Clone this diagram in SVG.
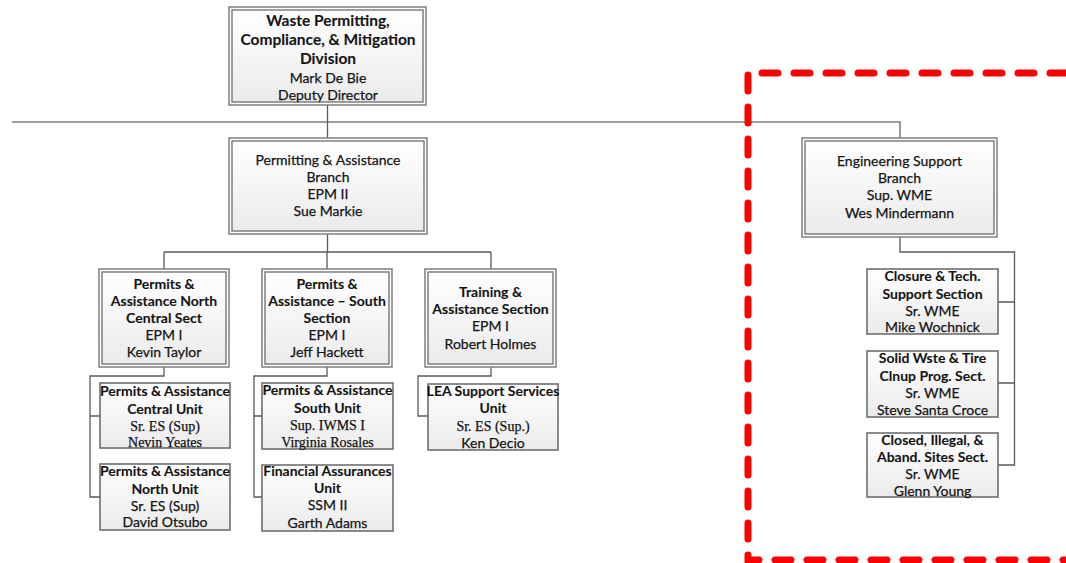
<svg xmlns="http://www.w3.org/2000/svg" width="1066" height="563" viewBox="0 0 1066 563">
<defs>
<linearGradient id="g" x1="0" y1="0" x2="0" y2="1">
<stop offset="0" stop-color="#ffffff"/>
<stop offset="1" stop-color="#ebebeb"/>
</linearGradient>
<style>
.o{fill:#fff;stroke:#7f7f7f;stroke-width:1.5}
.i{fill:url(#g);stroke:#7f7f7f;stroke-width:1.5}
.s{fill:url(#g);stroke:#666;stroke-width:1.5}
.c{fill:none;stroke:#5a5a5a;stroke-width:1.3}
.t{font-family:Lato,"Liberation Sans",sans-serif;font-size:14px;fill:#141414;stroke:#141414;stroke-width:0.25;text-anchor:middle}
.b{font-weight:bold;stroke-width:0.1}
.h{font-size:15.5px}
.sf{font-family:"Liberation Serif",serif;font-size:14px}
.red{fill:none;stroke:#ff0000;stroke-width:7;stroke-dasharray:16 16;stroke-linecap:round}
</style>
</defs>
<rect width="1066" height="563" fill="#fff"/>
<g id="connectors">
<path class="c" d="M12 122 H900 V138" style="stroke:#808080;stroke-width:1.6"/>
<path class="c" d="M327.5 105 V138"/>
<path class="c" d="M327.5 234 V252 M164 252 H491 M164 252 V269 M327 252 V269 M491 252 V269"/>
<path class="c" d="M164 367 V376 H90 V497 H100 M90 416 H100"/>
<path class="c" d="M327 367 V376 H254 V497 H262 M254 416 H262"/>
<path class="c" d="M491 367 V376 H418 V416 H428"/>
<path class="c" d="M900 237 V252 H1014.5 V465 H998 M1014.5 302 H998 M1014.5 383 H998"/>
</g>
<g id="division">
<rect class="o" x="229" y="7" width="197" height="98"/>
<rect class="i" x="232" y="10" width="191" height="92"/>
<text class="t b h" x="328" y="26">Waste Permitting,</text>
<text class="t b h" x="328" y="45">Compliance, &amp; Mitigation</text>
<text class="t b h" x="328" y="64">Division</text>
<text class="t" x="328" y="83">Mark De Bie</text>
<text class="t" x="328" y="100">Deputy Director</text>
</g>
<g id="permitting-branch">
<rect class="o" x="229" y="138" width="198" height="96"/>
<rect class="i" x="232" y="141" width="192" height="90"/>
<text class="t" x="328" y="165">Permitting &amp; Assistance</text>
<text class="t" x="328" y="182">Branch</text>
<text class="t" x="328" y="199">EPM II</text>
<text class="t" x="328" y="216">Sue Markie</text>
</g>
<g id="engineering-branch">
<rect class="o" x="802" y="138" width="195" height="99"/>
<rect class="i" x="805" y="141" width="189" height="93"/>
<text class="t" x="899.5" y="166">Engineering Support</text>
<text class="t" x="899.5" y="183">Branch</text>
<text class="t" x="899.5" y="200">Sup. WME</text>
<text class="t" x="899.5" y="218">Wes Mindermann</text>
</g>
<g id="north-central-sect">
<rect class="o" x="99" y="269" width="130" height="98"/>
<rect class="i" x="102" y="272" width="124" height="92"/>
<text class="t b" x="164" y="289">Permits &amp;</text>
<text class="t b" x="164" y="306">Assistance North</text>
<text class="t b" x="164" y="323">Central Sect</text>
<text class="t" x="164" y="340">EPM I</text>
<text class="t" x="164" y="357">Kevin Taylor</text>
</g>
<g id="south-section">
<rect class="o" x="262" y="269" width="130" height="98"/>
<rect class="i" x="265" y="272" width="124" height="92"/>
<text class="t b" x="327" y="289">Permits &amp;</text>
<text class="t b" x="327" y="306">Assistance – South</text>
<text class="t b" x="327" y="323">Section</text>
<text class="t" x="327" y="340">EPM I</text>
<text class="t" x="327" y="357">Jeff Hackett</text>
</g>
<g id="training-section">
<rect class="o" x="425" y="269" width="131" height="98"/>
<rect class="i" x="428" y="272" width="125" height="92"/>
<text class="t b" x="490.5" y="297">Training &amp;</text>
<text class="t b" x="490.5" y="314">Assistance Section</text>
<text class="t" x="490.5" y="331">EPM I</text>
<text class="t" x="490.5" y="349">Robert Holmes</text>
</g>
<g id="central-unit">
<rect class="s" x="100" y="383" width="130" height="65"/>
<text class="t b" x="165" y="396">Permits &amp; Assistance</text>
<text class="t b" x="165" y="414">Central Unit</text>
<text class="t sf" x="165" y="431">Sr. ES (Sup)</text>
<text class="t sf" x="165" y="447">Nevin Yeates</text>
</g>
<g id="north-unit">
<rect class="s" x="100" y="464" width="130" height="66"/>
<text class="t b" x="165" y="476">Permits &amp; Assistance</text>
<text class="t b" x="165" y="494">North Unit</text>
<text class="t" x="165" y="511">Sr. ES (Sup)</text>
<text class="t" x="165" y="527">David Otsubo</text>
</g>
<g id="south-unit">
<rect class="s" x="262" y="383" width="131" height="66"/>
<text class="t b" x="327.5" y="395">Permits &amp; Assistance</text>
<text class="t b" x="327.5" y="413">South Unit</text>
<text class="t sf" x="327.5" y="430">Sup. IWMS I</text>
<text class="t sf" x="327.5" y="447">Virginia Rosales</text>
</g>
<g id="financial-unit">
<rect class="s" x="262" y="465" width="131" height="66"/>
<text class="t b" x="327.5" y="476">Financial Assurances</text>
<text class="t b" x="327.5" y="493">Unit</text>
<text class="t" x="327.5" y="510">SSM II</text>
<text class="t" x="327.5" y="528">Garth Adams</text>
</g>
<g id="lea-unit">
<rect class="s" x="428" y="384" width="130" height="66"/>
<text class="t b" x="493" y="396">LEA Support Services</text>
<text class="t b" x="493" y="413">Unit</text>
<text class="t sf" x="493" y="431">Sr. ES (Sup.)</text>
<text class="t" x="493" y="448">Ken Decio</text>
</g>
<g id="closure-section">
<rect class="s" x="867" y="269" width="131" height="65"/>
<text class="t b" x="932.5" y="281">Closure &amp; Tech.</text>
<text class="t b" x="932.5" y="299">Support Section</text>
<text class="t" x="932.5" y="316">Sr. WME</text>
<text class="t" x="932.5" y="332">Mike Wochnick</text>
</g>
<g id="solid-waste-section">
<rect class="s" x="867" y="351" width="131" height="66"/>
<text class="t b" x="932.5" y="363">Solid Wste &amp; Tire</text>
<text class="t b" x="932.5" y="381">Clnup Prog. Sect.</text>
<text class="t" x="932.5" y="398">Sr. WME</text>
<text class="t" x="932.5" y="415">Steve Santa Croce</text>
</g>
<g id="closed-sites-section">
<rect class="s" x="867" y="433" width="131" height="64"/>
<text class="t b" x="932.5" y="445">Closed, Illegal, &amp;</text>
<text class="t b" x="932.5" y="462">Aband. Sites Sect.</text>
<text class="t" x="932.5" y="479">Sr. WME</text>
<text class="t" x="932.5" y="496">Glenn Young</text>
</g>
<path class="red" d="M1066 73 H748 V560 H1066"/>
</svg>
